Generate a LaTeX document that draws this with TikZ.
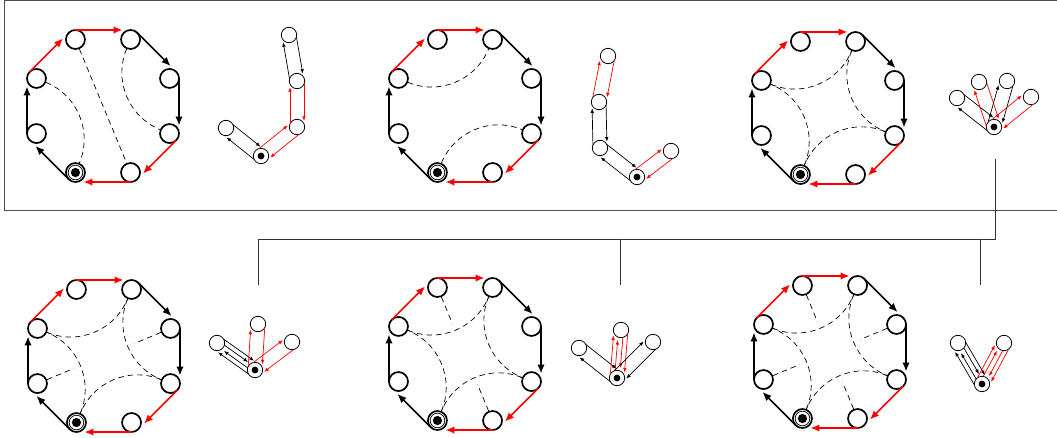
\documentclass[tikz,border=0pt]{standalone}
\usetikzlibrary{calc,arrows.meta}
\tikzset{
  octnode/.style={circle,draw,line width=1.7pt,fill=white,minimum size=19pt,inner sep=0pt},
  tnode/.style={circle,draw,line width=0.8pt,fill=white,minimum size=15.4pt,inner sep=0pt},
  octarrow/.style={line width=1.7pt,-{Latex[length=9pt,width=7.5pt]},shorten >=8pt},
  tarrow/.style={line width=0.7pt,-{Latex[length=4.5pt,width=3.6pt]}},
  chord/.style={line width=0.7pt,dash pattern=on 5.5pt off 4pt},
  boxline/.style={draw=black!70,line width=0.9pt},
  conn/.style={draw=black!80,line width=0.8pt},
}
\newcommand\octedge[3]{\draw[octarrow,#3] ($(#1)!9.5pt!90:(#2)$) -- ($(#2)!9.5pt!-90:(#1)$);}
\newcommand\octpanel[3]{%
  \coordinate (#1c) at (#2,#3);
  \foreach \i/\a in {1/247.5,2/202.5,3/157.5,4/112.5,5/67.5,6/22.5,7/-22.5,8/-67.5}
    {\node[octnode] (#1n\i) at ($(#1c)+(\a:72)$) {};}
  \draw[line width=0.7pt] (#1n1) circle (7.3);
  \fill (#1n1) circle (4.6);
  \octedge{#1n1}{#1n2}{black}
  \octedge{#1n2}{#1n3}{black}
  \octedge{#1n3}{#1n4}{red}
  \octedge{#1n4}{#1n5}{red}
  \octedge{#1n5}{#1n6}{black}
  \octedge{#1n6}{#1n7}{black}
  \octedge{#1n7}{#1n8}{red}
  \octedge{#1n8}{#1n1}{red}
}
\newcommand\stub[2]{\draw[chord] (#1n#2) -- ($(#1c)!33pt!(#1n#2)$);}
\newcommand\fourarcs[1]{%
  \draw[chord] (#1n3) to[out=-22.5,in=247.5] (#1n5);
  \draw[chord] (#1n5) to[out=247.5,in=157.5] (#1n7);
  \draw[chord] (#1n7) to[out=157.5,in=67.5] (#1n1);
  \draw[chord] (#1n1) to[out=67.5,in=-22.5] (#1n3);
}
\newcommand\tedge[4]{%
  \pgfmathsetmacro\tshs{sqrt(7.7*7.7-#4*#4)}%
  \pgfmathsetmacro\tshe{\tshs+3}%
  \draw[tarrow,#3,shorten <=\tshs pt,shorten >=\tshe pt] ($(#1)!#4pt!90:(#2)$) -- ($(#2)!#4pt!-90:(#1)$);
}
\newcommand\troot[1]{\fill (#1) circle (3.4);}
\begin{document}
\begin{tikzpicture}[x=1pt,y=1pt]
\useasboundingbox (0,0) rectangle (1057,-438);
% frame
\coordinate (f1) at (4.5,-0.5);
\coordinate (f2) at (1065,-210);
\draw[boxline] (f1) rectangle (f2);
% octagons
\octpanel{p1}{103}{-106}
\octpanel{p2}{465}{-106}
\octpanel{p3}{828}{-108}
\octpanel{p4}{104}{-356}
\octpanel{p5}{465}{-354}
\octpanel{p6}{830}{-352}
% chords
\draw[chord] (p1n3) to[out=-22.5,in=67.5] (p1n1);
\draw[chord] (p1n4) -- (p1n8);
\draw[chord] (p1n5) to[out=247.5,in=157.5] (p1n7);
\draw[chord] (p2n3) to[out=-22.5,in=247.5] (p2n5);
\draw[chord] (p2n1) to[out=67.5,in=157.5] (p2n7);
\fourarcs{p3}
\fourarcs{p4}
\fourarcs{p5}
\fourarcs{p6}
\stub{p4}{2}\stub{p4}{6}
\stub{p5}{4}\stub{p5}{8}
\stub{p6}{2}\stub{p6}{4}\stub{p6}{6}\stub{p6}{8}
% tree 1
\node[tnode] (t1r) at (261,-156) {};
\node[tnode] (t1a) at (226,-128) {};
\node[tnode] (t1b) at (297,-127) {};
\node[tnode] (t1c) at (297,-81) {};
\node[tnode] (t1d) at (289,-35) {};
\troot{t1r}
\tedge{t1r}{t1a}{black}{7}\tedge{t1a}{t1r}{black}{7}
\tedge{t1r}{t1b}{red}{7}\tedge{t1b}{t1c}{red}{7}
\tedge{t1c}{t1d}{black}{7}\tedge{t1d}{t1c}{black}{7}
\tedge{t1c}{t1b}{red}{7}\tedge{t1b}{t1r}{red}{7}
% tree 2
\node[tnode] (t2r) at (637,-177) {};
\node[tnode] (t2e) at (600,-148) {};
\node[tnode] (t2f) at (599,-102) {};
\node[tnode] (t2g) at (608,-56) {};
\node[tnode] (t2h) at (671,-151) {};
\troot{t2r}
\tedge{t2r}{t2e}{black}{7}\tedge{t2e}{t2f}{black}{7}
\tedge{t2f}{t2g}{red}{7}\tedge{t2g}{t2f}{red}{7}
\tedge{t2f}{t2e}{black}{7}\tedge{t2e}{t2r}{black}{7}
\tedge{t2r}{t2h}{red}{7}\tedge{t2h}{t2r}{red}{7}
% tree 3
\node[tnode] (t3r) at (994,-127) {};
\node[tnode] (t3a) at (957,-98) {};
\node[tnode] (t3b) at (979,-82) {};
\node[tnode] (t3c) at (1007,-81) {};
\node[tnode] (t3d) at (1031,-97) {};
\troot{t3r}
\tedge{t3r}{t3a}{black}{7}\tedge{t3a}{t3r}{black}{7}
\tedge{t3r}{t3b}{red}{7}\tedge{t3b}{t3r}{red}{7}
\tedge{t3r}{t3c}{black}{7}\tedge{t3c}{t3r}{black}{7}
\tedge{t3r}{t3d}{red}{7}\tedge{t3d}{t3r}{red}{7}
% tree 4
\node[tnode] (t4r) at (255,-370) {};
\node[tnode] (t4a) at (217,-343) {};
\node[tnode] (t4b) at (258,-324) {};
\node[tnode] (t4c) at (292,-342) {};
\troot{t4r}
\tedge{t4r}{t4a}{black}{7}\tedge{t4a}{t4r}{black}{7}
\tedge{t4r}{t4a}{black}{2.5}\tedge{t4a}{t4r}{black}{2.5}
\tedge{t4r}{t4b}{red}{7}\tedge{t4b}{t4r}{red}{7}
\tedge{t4r}{t4c}{red}{7}\tedge{t4c}{t4r}{red}{7}
% tree 5
\node[tnode] (t5r) at (617,-378) {};
\node[tnode] (t5a) at (579,-348) {};
\node[tnode] (t5b) at (621,-330) {};
\node[tnode] (t5c) at (653,-342) {};
\troot{t5r}
\tedge{t5r}{t5a}{black}{7}\tedge{t5a}{t5r}{black}{7}
\tedge{t5r}{t5b}{red}{7}\tedge{t5b}{t5r}{red}{7}
\tedge{t5r}{t5b}{red}{2.5}\tedge{t5b}{t5r}{red}{2.5}
\tedge{t5r}{t5c}{black}{7}\tedge{t5c}{t5r}{black}{7}
% tree 6
\node[tnode] (t6r) at (982,-384) {};
\node[tnode] (t6a) at (958,-343) {};
\node[tnode] (t6b) at (1004,-343) {};
\troot{t6r}
\tedge{t6r}{t6a}{black}{7}\tedge{t6a}{t6r}{black}{7}
\tedge{t6r}{t6a}{black}{2.5}\tedge{t6a}{t6r}{black}{2.5}
\tedge{t6r}{t6b}{red}{7}\tedge{t6b}{t6r}{red}{7}
\tedge{t6r}{t6b}{red}{2.5}\tedge{t6b}{t6r}{red}{2.5}
% connectors
\coordinate (j0) at (995,-159);
\coordinate (j1) at (995,-239);
\coordinate (ja) at (258,-239);
\coordinate (jb) at (620,-239);
\coordinate (jc) at (980,-239);
\coordinate (ea) at (258,-285);
\coordinate (eb) at (620,-285);
\coordinate (ec) at (980,-285);
\draw[conn] (j0) -- (j1) -- (ja);
\draw[conn] (ja) -- (ea);
\draw[conn] (jb) -- (eb);
\draw[conn] (jc) -- (ec);
\end{tikzpicture}
\end{document}
